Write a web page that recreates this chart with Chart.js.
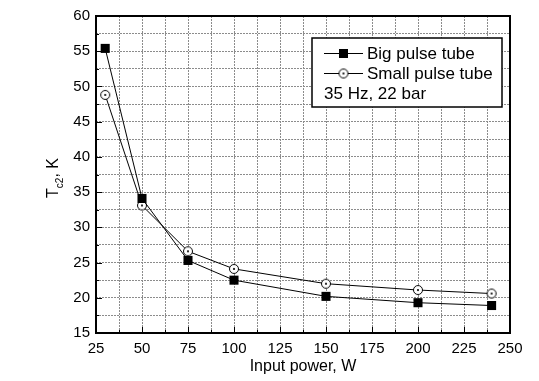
<!DOCTYPE html>
<html lang="en">
<head>
<meta charset="UTF-8">
<title>Tc2 vs input power</title>
<script src="https://cdn.jsdelivr.net/npm/chart.js"></script>
<style>
    html, body { margin: 0; padding: 0; background: #fff; }
    #wrap { position: relative; width: 539px; height: 381px; }
</style>
</head>
<body>
<div id="wrap"><canvas id="tcChart"></canvas></div>
<script>
    // data
    const power = [30, 50, 75, 100, 150, 200, 240];
    const bigTube = [55.4, 34.1, 25.3, 22.5, 20.2, 19.3, 18.9];
    const smallTube = [48.8, 33.1, 26.6, 24.1, 22.0, 21.1, 20.6];
    const seriesNames = ['Big pulse tube', 'Small pulse tube'];
    const legendNote = '35 Hz, 22 bar';
    const xTitle = 'Input power, W';

    const FONT = '"Liberation Sans", Arial, sans-serif';

    // open circle with a dot in the middle
    function makeDotCircle() {
        const c = document.createElement('canvas');
        c.width = 12; c.height = 12;
        const g = c.getContext('2d');
        g.fillStyle = '#fff';
        g.strokeStyle = '#000';
        g.lineWidth = 1;
        g.beginPath(); g.arc(6, 6, 4.5, 0, Math.PI * 2); g.fill(); g.stroke();
        g.fillStyle = '#000';
        g.beginPath(); g.arc(6, 6, 1.1, 0, Math.PI * 2); g.fill();
        return c;
    }
    const dotCircle = makeDotCircle();

    function minorTicks(min, max, step) {
        const out = [];
        for (let v = min; v <= max + 1e-9; v += step) out.push({ value: v });
        return out;
    }

    const decor = {
        id: 'decor',
        afterDraw(chart) {
            const { ctx, chartArea: a, scales: { x, y } } = chart;
            ctx.save();
            ctx.strokeStyle = '#000';
            ctx.lineWidth = 1;

            // inward tick marks
            ctx.beginPath();
            x.ticks.forEach(t => {
                const px = Math.round(x.getPixelForValue(t.value)) + 0.5;
                const len = t.value % 25 === 0 ? 6 : 3;
                ctx.moveTo(px, a.bottom); ctx.lineTo(px, a.bottom - len);
            });
            y.ticks.forEach(t => {
                const py = Math.round(y.getPixelForValue(t.value)) + 0.5;
                const len = t.value % 5 === 0 ? 6 : 3;
                ctx.moveTo(a.left, py); ctx.lineTo(a.left + len, py);
            });
            ctx.stroke();

            // frame
            ctx.lineWidth = 2;
            ctx.strokeRect(a.left, a.top, a.right - a.left, a.bottom - a.top);

            // legend box
            const lx = 312, ly = 38, lw = 190, lh = 69;
            ctx.fillStyle = '#fff';
            ctx.fillRect(lx, ly, lw, lh);
            ctx.lineWidth = 1.5;
            ctx.strokeRect(lx, ly, lw, lh);

            ctx.lineWidth = 1;
            ctx.fillStyle = '#000';
            ctx.font = '17px ' + FONT;
            ctx.textBaseline = 'middle';
            const rows = [53, 73];
            rows.forEach((ry, i) => {
                ctx.beginPath();
                ctx.moveTo(324, ry + 0.5); ctx.lineTo(363, ry + 0.5);
                ctx.stroke();
                if (i === 0) {
                    ctx.fillRect(339, ry - 4, 9, 9);
                } else {
                    ctx.drawImage(dotCircle, 337.5, ry - 5.5);
                }
                ctx.fillText(seriesNames[i], 367, ry + 1);
            });
            ctx.fillText(legendNote, 324, 94);

            // x title
            ctx.font = '16px ' + FONT;
            ctx.textAlign = 'center';
            ctx.textBaseline = 'middle';
            ctx.fillText(xTitle, (a.left + a.right) / 2, 367);

            // y title with subscript
            ctx.translate(58, 178);
            ctx.rotate(-Math.PI / 2);
            ctx.textAlign = 'left';
            ctx.textBaseline = 'alphabetic';
            const big = '16px ' + FONT, small = '10px ' + FONT;
            ctx.font = big; const w1 = ctx.measureText('T').width, w3 = ctx.measureText(', K').width;
            ctx.font = small; const w2 = ctx.measureText('c2').width;
            let sx = -(w1 + w2 + w3) / 2;
            ctx.font = big; ctx.fillText('T', sx, 0); sx += w1;
            ctx.font = small; ctx.fillText('c2', sx, 5); sx += w2;
            ctx.font = big; ctx.fillText(', K', sx, 0);

            ctx.restore();
        }
    };

    new Chart(document.getElementById('tcChart'), {
        type: 'line',
        data: {
            datasets: [
                {
                    label: seriesNames[0],
                    data: power.map((p, i) => ({ x: p, y: bigTube[i] })),
                    borderColor: '#000',
                    borderWidth: 1,
                    backgroundColor: '#000',
                    pointStyle: 'rect',
                    pointRadius: 6.4,
                    pointBorderWidth: 0,
                    pointBackgroundColor: '#000',
                    tension: 0,
                    fill: false
                },
                {
                    label: seriesNames[1],
                    data: power.map((p, i) => ({ x: p, y: smallTube[i] })),
                    borderColor: '#000',
                    borderWidth: 1,
                    pointStyle: dotCircle,
                    pointRadius: 5,
                    tension: 0,
                    fill: false
                }
            ]
        },
        options: {
            responsive: true,
            maintainAspectRatio: false,
            animation: false,
            events: [],
            layout: { padding: { top: 16, right: 29, left: 0, bottom: 0 } },
            plugins: {
                legend: { display: false },
                tooltip: { enabled: false }
            },
            scales: {
                x: {
                    type: 'linear',
                    min: 25,
                    max: 250,
                    afterBuildTicks: s => { s.ticks = minorTicks(25, 250, 12.5); },
                    afterFit: s => { s.height = 48; },
                    ticks: {
                        autoSkip: false,
                        maxRotation: 0,
                        padding: 7,
                        color: '#000',
                        font: { family: FONT, size: 15 },
                        callback: v => (v % 25 === 0 ? String(v) : '')
                    },
                    grid: { color: '#8c8c8c', lineWidth: 1, drawTicks: false },
                    border: { display: false, dash: [2, 1] }
                },
                y: {
                    type: 'linear',
                    min: 15,
                    max: 60,
                    afterBuildTicks: s => { s.ticks = minorTicks(15, 60, 2.5); },
                    afterFit: s => { s.width = 96; },
                    ticks: {
                        autoSkip: false,
                        padding: 6,
                        color: '#000',
                        font: { family: FONT, size: 15 },
                        callback: v => (v % 5 === 0 ? String(v) : '')
                    },
                    grid: { color: '#8c8c8c', lineWidth: 1, drawTicks: false },
                    border: { display: false, dash: [2, 1] }
                }
            }
        },
        plugins: [decor]
    });
</script>
</body>
</html>
